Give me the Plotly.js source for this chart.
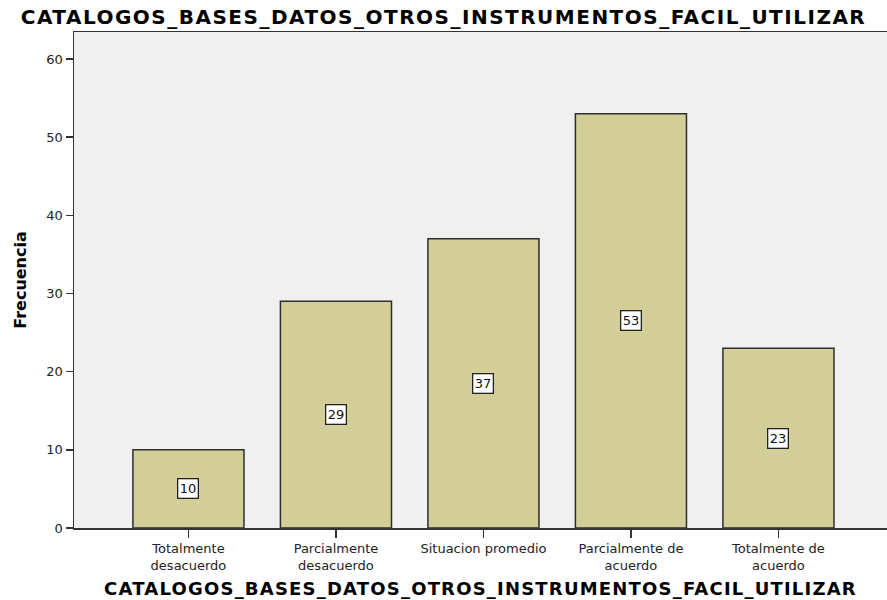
<!DOCTYPE html>
<html>
<head>
<meta charset="utf-8">
<script src="https://cdn.plot.ly/plotly-3.0.1.min.js"></script>
<style>
html,body{margin:0;padding:0;background:#fff;}
#chart{width:887px;height:600px;}
#chart .gtitle{letter-spacing:1.5px;}
#chart .xtitle{letter-spacing:1.2px;}
</style>
</head>
<body>
<div id="chart"></div>
<script>
const categories = ["Totalmente<br>desacuerdo", "Parcialmente<br>desacuerdo", "Situacion promedio", "Parcialmente de<br>acuerdo", "Totalmente de<br>acuerdo"];
const frequencies = [10, 29, 37, 53, 23];
const yTicks = [0, 10, 20, 30, 40, 50, 60];
const chartTitle = "CATALOGOS_BASES_DATOS_OTROS_INSTRUMENTOS_FACIL_UTILIZAR";
const yTitle = "Frecuencia";

const FONT = "DejaVu Sans, Verdana, sans-serif";

const trace = {
  type: "bar",
  x: categories,
  y: frequencies,
  marker: {color: "#d3ce98", line: {color: "#2e2e2e", width: 1.5}},
  width: 0.753,
  hoverinfo: "x+y"
};

const annotations = categories.map((c, i) => ({
  x: c, y: frequencies[i] / 2, xref: "x", yref: "y",
  text: String(frequencies[i]), showarrow: false,
  font: {family: FONT, size: 13, color: "#111"},
  bgcolor: "#ffffff", bordercolor: "#222", borderwidth: 1.3, borderpad: 1.5
}));

const layout = {
  width: 887, height: 600,
  margin: {l: 74, r: 0, t: 32, b: 72},
  paper_bgcolor: "#ffffff",
  plot_bgcolor: "#f0f0f0",
  showlegend: false,
  title: {text: "<b>" + chartTitle + "</b>", x: 0.5, xanchor: "center", y: 0.972, yanchor: "middle",
          font: {family: FONT, size: 20, color: "#000"}},
  xaxis: {
    type: "category", range: [-0.776, 4.736],
    showgrid: false, zeroline: false,
    showline: true, linecolor: "#333", linewidth: 1.5, mirror: true,
    ticks: "outside", ticklen: 8, tickwidth: 1.5, tickcolor: "#333",
    tickfont: {family: FONT, size: 13, color: "#222"},
    title: {text: "<b>" + chartTitle + "</b>", standoff: 10,
            font: {family: FONT, size: 18, color: "#000"}}
  },
  yaxis: {
    range: [0, 63.45],
    tickvals: yTicks,
    showgrid: false, zeroline: false,
    showline: true, linecolor: "#333", linewidth: 1.5,
    ticks: "outside", ticklen: 7, tickwidth: 1.5, tickcolor: "#333",
    tickfont: {family: FONT, size: 13, color: "#222"},
    title: {text: "<b>" + yTitle + "</b>", standoff: 16,
            font: {family: FONT, size: 16, color: "#000"}}
  },
  annotations: annotations
};

Plotly.newPlot("chart", [trace], layout, {displayModeBar: false, staticPlot: true});
</script>
</body>
</html>
